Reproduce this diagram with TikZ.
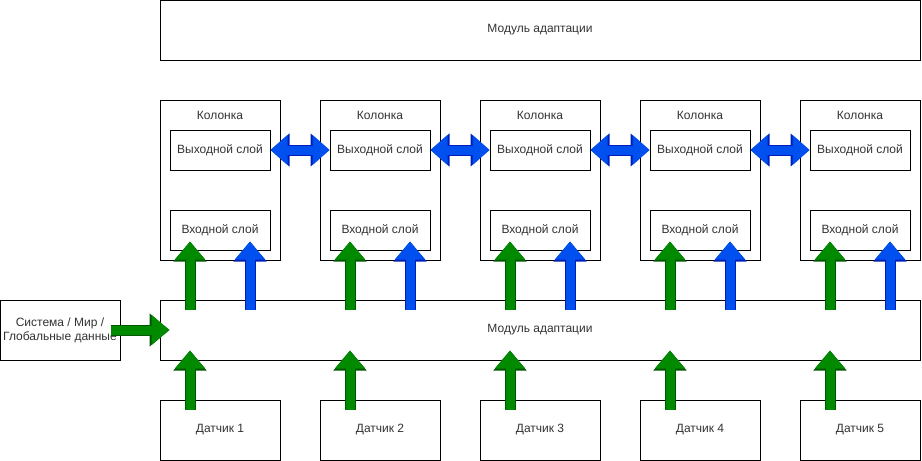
\documentclass[tikz,border=0pt]{standalone}
\usepackage{fontspec}
\setmainfont{Liberation Sans}
\usetikzlibrary{arrows.meta,calc}
\definecolor{gfill}{HTML}{008A00}
\definecolor{gline}{HTML}{005700}
\definecolor{bfill}{HTML}{0050EF}
\definecolor{bline}{HTML}{001DBC}
\begin{document}
\begin{tikzpicture}[x=1pt,y=-1pt,
  box/.style={draw=black, line width=1pt, fill=white, inner sep=0pt, align=center,
    font=\fontsize{12}{14}\selectfont, text=black!80},
  lbl/.style={inner sep=0pt, font=\fontsize{12}{14}\selectfont, text=black!80},
  gout/.style={line width=11pt, draw=gline, -{Triangle[width=32pt,length=20pt]}},
  gin/.style={line width=9pt, draw=gfill, -{Triangle[width=29pt,length=18pt]}},
  bout/.style={line width=11pt, draw=bline, -{Triangle[width=32pt,length=20pt]}},
  bin/.style={line width=9pt, draw=bfill, -{Triangle[width=29pt,length=18pt]}},
  bbout/.style={line width=11pt, draw=bline, {Triangle[width=32pt,length=19pt]}-{Triangle[width=32pt,length=19pt]}},
  bbin/.style={line width=9pt, draw=bfill, {Triangle[width=29pt,length=17pt]}-{Triangle[width=29pt,length=17pt]}}
]
\useasboundingbox (0,0) rectangle (922,461);
\node[box, minimum width=760pt, minimum height=60pt] (top) at (540,30) {Модуль адаптации};
\node[box, minimum width=760pt, minimum height=60pt] (mid) at (540,330) {Модуль адаптации};
\node[box, minimum width=120pt, minimum height=60pt] (sys) at (60,330) {Система / Мир /\\Глобальные данные};
\foreach \i in {1,...,5}{
  \pgfmathsetmacro{\cx}{220+160*(\i-1)}
  \node[box, minimum width=120pt, minimum height=160pt] (col\i) at (\cx,180) {};
  \node[lbl] (cl\i) at (\cx,115) {Колонка};
  \node[box, minimum width=100pt, minimum height=40pt] (out\i) at (\cx,150) {Выходной слой};
  \node[box, minimum width=100pt, minimum height=40pt] (in\i) at (\cx,230) {Входной слой};
  \node[box, minimum width=120pt, minimum height=60pt] (sen\i) at (\cx,430) {Датчик \i};
}
\foreach \i in {1,...,5}{
  \coordinate (ga\i) at ($(in\i.south |- mid.north)+(-30,10)$);
  \coordinate (gb\i) at ($(in\i.south)+(-30,-9)$);
  \coordinate (ba\i) at ($(in\i.south |- mid.north)+(30,10)$);
  \coordinate (bb\i) at ($(in\i.south)+(30,-9)$);
  \coordinate (sa\i) at ($(sen\i.north)+(-30,10)$);
  \coordinate (sb\i) at ($(sen\i.north |- mid.south)+(-30,-10)$);
  \draw[gout] (ga\i) -- (gb\i);
  \draw[gin] (ga\i) -- (gb\i);
  \draw[bout] (ba\i) -- (bb\i);
  \draw[bin] (ba\i) -- (bb\i);
  \draw[gout] (sa\i) -- (sb\i);
  \draw[gin] (sa\i) -- (sb\i);
}
\foreach \i/\j in {1/2,2/3,3/4,4/5}{
  \draw[bbout] (out\i.east) -- (out\j.west);
  \draw[bbin] (out\i.east) -- (out\j.west);
}
\coordinate (sysa) at ($(sys.east)+(-10,0)$);
\coordinate (sysb) at ($(sys.east -| mid.west)+(10,0)$);
\draw[gout] (sysa) -- (sysb);
\draw[gin] (sysa) -- (sysb);
\end{tikzpicture}
\end{document}
